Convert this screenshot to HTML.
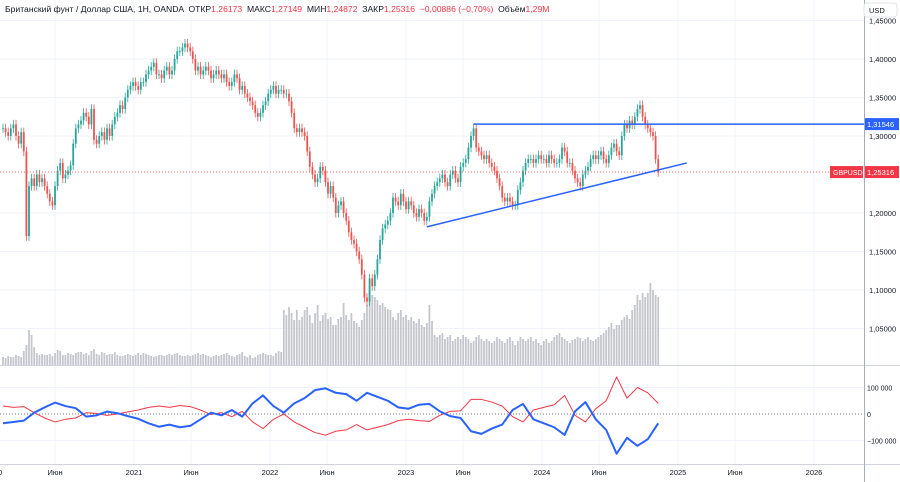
<!DOCTYPE html>
<html><head><meta charset="utf-8"><style>
body{margin:0;background:#fff;font-family:"Liberation Sans","Noto Sans CJK SC",sans-serif}
#wrap{position:relative;width:900px;height:482px;overflow:hidden}
svg{position:absolute;left:0;top:0}
</style></head><body>
<div id="wrap">
<svg id="c" width="900" height="482"></svg>
</div>
<script>
const closes=[1.31,1.305,1.30,1.31,1.315,1.30,1.29,1.305,
1.28,1.17,1.235,1.245,1.235,
1.25,1.24,1.245,1.235,1.225,1.215,1.21,
1.235,1.255,1.265,1.245,1.25,1.255,1.262,1.29,
1.31,1.315,1.32,1.33,1.325,1.315,1.335,1.295,
1.29,1.30,1.305,1.295,1.31,1.30,1.315,1.325,
1.33,1.34,1.335,1.35,1.36,1.365,1.37,1.365,
1.36,1.37,1.37,1.38,1.385,1.39,1.395,1.38,
1.38,1.375,1.385,1.39,1.38,1.385,1.40,1.41,
1.41,1.415,1.42,1.415,1.41,1.40,1.385,1.39,
1.38,1.385,1.39,1.385,1.375,1.38,1.385,1.38,
1.375,1.38,1.37,1.365,1.37,1.38,1.375,1.36,
1.365,1.355,1.35,1.345,1.34,1.33,1.325,1.33,
1.34,1.345,1.355,1.36,1.365,1.355,1.36,1.36,
1.355,1.355,1.345,1.33,1.31,1.305,1.31,1.305,
1.30,1.28,1.26,1.25,1.24,1.245,1.26,1.255,
1.24,1.225,1.235,1.22,1.20,1.21,1.215,1.20,
1.19,1.175,1.165,1.16,1.15,1.14,1.12,1.09,
1.085,1.115,1.105,1.12,1.14,1.165,1.18,1.185,
1.19,1.20,1.22,1.215,1.21,1.225,1.215,1.205,
1.215,1.21,1.20,1.195,1.205,1.20,1.19,1.195,
1.215,1.225,1.235,1.24,1.245,1.25,1.24,1.235,
1.25,1.255,1.245,1.24,1.26,1.265,1.27,1.285,
1.30,1.31,1.285,1.28,1.275,1.27,1.275,1.265,
1.26,1.255,1.245,1.235,1.22,1.215,1.22,1.215,
1.21,1.21,1.23,1.24,1.255,1.265,1.27,1.27,
1.265,1.27,1.275,1.27,1.27,1.265,1.275,1.27,
1.265,1.265,1.27,1.285,1.28,1.265,1.265,1.255,
1.245,1.24,1.235,1.25,1.255,1.26,1.27,1.275,
1.27,1.275,1.28,1.27,1.265,1.275,1.285,1.29,
1.28,1.275,1.30,1.315,1.31,1.32,1.315,1.325,
1.335,1.34,1.325,1.315,1.31,1.305,1.30,1.27,1.253];
const volumes=[8,7,9,8,8,10,9,8,14,
20,35,30,18,
12,10,11,10,10,11,9,12,15,14,
10,10,12,11,10,12,13,13,11,12,
10,14,16,11,10,13,12,10,11,11,
13,10,9,9,10,11,10,9,10,12,
10,12,11,10,9,8,9,10,10,9,
10,11,10,11,12,10,9,9,10,9,
10,11,12,10,11,10,9,8,9,10,
9,10,11,12,10,9,8,10,11,13,
9,8,10,7,8,10,11,12,11,10,
10,9,12,14,13,
55,50,58,52,45,55,45,48,55,58,50,42,52,60,44,50,52,46,48,40,40,46,48,62,50,45,52,44,42,38,45,52,60,
74,70,68,65,60,62,58,56,55,48,45,52,55,48,50,45,48,44,42,46,40,38,42,60,44,
30,28,30,32,26,28,30,24,26,28,26,30,28,26,22,24,28,30,26,24,26,24,22,24,28,26,24,22,26,28,24,20,24,28,26,24,26,28,24,26,22,20,24,26,22,24,28,30,32,28,26,24,22,25,26,28,27,24,26,28,25,24,26,28,30,32,
35,38,42,36,40,40,45,48,50,46,55,60,70,65,72,68,72,82,75,70,68];
const blueNet=[-35,-30,-25,5,25,43,30,22,-10,-5,9,3,-8,-18,-35,-48,-40,-50,-45,-20,5,-5,15,-10,40,70,30,5,40,60,90,97,80,75,50,80,65,50,25,20,35,38,10,-8,-15,-65,-75,-55,-40,15,38,-20,-35,-50,-79,10,45,-20,-60,-150,-90,-120,-95,-35];
const redNet=[30,25,28,5,-15,-30,-20,-15,5,2,-5,0,8,15,25,30,25,32,28,15,-2,5,-10,10,-30,-55,-20,0,-30,-50,-70,-80,-65,-60,-40,-60,-50,-40,-25,-20,-25,-28,-5,10,12,55,55,45,30,-10,-30,15,25,35,70,-5,-30,20,50,140,60,100,80,40];
const priceTicks=[1.05,1.10,1.15,1.20,1.30,1.35,1.40,1.45];
const priceTickLabels=["1,05000","1,10000","1,15000","1,20000","1,30000","1,35000","1,40000","1,45000"];
const netTicks=[100,0,-100];
const netTickLabels=["100 000","0","−100 000"];
const timeTicks=[2020,2020.42,2021,2021.42,2022,2022.42,2023,2023.42,2024,2024.42,2025,2025.42,2026];
const timeTickLabels=["20","Июн","2021","Июн","2022","Июн","2023","Июн","2024","Июн","2025","Июн","2026"];
const resistance=[1.31546];
const supportWeeks=[163,263];
const supportPrices=[1.182,1.265];
const resistanceStartWeek=181;
const lastPrice=1.25316;

const S=document.getElementById('c');const NS='http://www.w3.org/2000/svg';
function mk(t,a,p){const e=document.createElementNS(NS,t);for(const k in a)e.setAttribute(k,a[k]);(p||S).appendChild(e);return e;}
const xw=i=>3+i*2.6;
const xt=yr=>134+(yr-2021)*136;
const yp=p=>59+(1.40-p)*770;
const yn=v=>414-v*0.265;
const yv=v=>365-v;
timeTicks.forEach(t=>{const l=mk('line',{x1:xt(t),x2:xt(t),y1:0,y2:464,stroke:'#f0f3fa'});});
priceTicks.forEach(p=>{const l=mk('line',{x1:0,x2:864,y1:yp(p),y2:yp(p),stroke:'#f0f3fa'});});
netTicks.forEach(v=>{if(v!==0){const l=mk('line',{x1:0,x2:864,y1:yn(v),y2:yn(v),stroke:'#f0f3fa'});}});
volumes.forEach((v,i)=>{const r=mk('rect',{x:xw(i)-0.9,y:yv(v),width:1.8,height:v,fill:'#c4c6cc'});});
closes.forEach((c,i)=>{const o=i?closes[i-1]:c;const up=c>=o;const col=up?'#26a69a':'#ef5350';
const hi=Math.max(o,c)+0.006,lo=Math.min(o,c)-0.006;
const w=mk('line',{x1:xw(i),x2:xw(i),y1:yp(hi),y2:yp(lo),stroke:col,'stroke-width':0.8});

const b=mk('rect',{x:xw(i)-0.9,y:yp(Math.max(o,c)),width:1.8,height:Math.max(0.8,Math.abs(yp(o)-yp(c))),fill:col});
});
const lp=mk('line',{x1:0,x2:864,y1:yp(lastPrice),y2:yp(lastPrice),stroke:'#ef5350','stroke-dasharray':'1,2','stroke-width':0.8});

const rl=mk('line',{x1:xw(resistanceStartWeek),x2:864,y1:yp(resistance[0]),y2:yp(resistance[0]),stroke:'#2962ff','stroke-width':1.5});

const sl=mk('line',{x1:xw(supportWeeks[0]),x2:xw(supportWeeks[1]),y1:yp(supportPrices[0]),y2:yp(supportPrices[1]),stroke:'#2962ff','stroke-width':1.5});

mk('line',{x1:0,x2:900,y1:365.5,y2:365.5,stroke:'#d1d4dc'});
mk('line',{x1:0,x2:900,y1:464.5,y2:464.5,stroke:'#d1d4dc'});
mk('line',{x1:864.5,x2:864.5,y1:0,y2:482,stroke:'#a9adb7'});
const zl=mk('line',{x1:0,x2:864,y1:yn(0),y2:yn(0),stroke:'#787b86','stroke-dasharray':'1,2'});

function pl(arr,col,w,name){const pts=arr.map((v,k)=>xw(k*4)+','+yn(v)).join(' ');const e=mk('polyline',{points:pts,fill:'none',stroke:col,'stroke-width':w,'stroke-linejoin':'round'});}
pl(redNet,'#f23645',1,'red-net-line');
pl(blueNet,'#2962ff',2,'blue-net-line');
function tx(x,y,s,opt){const t=mk('text',Object.assign({x:x,y:y,'font-size':7.5,fill:'#131722'},opt||{}));t.textContent=s;return t;}
priceTicks.forEach((p,k)=>{const t=tx(869,yp(p)+3,priceTickLabels[k]);});
netTicks.forEach((v,k)=>{const t=tx(867,yn(v)+3,netTickLabels[k],{'font-size':7});});
timeTicks.forEach((v,k)=>{const t=tx(xt(v),475,timeTickLabels[k],{'text-anchor':'middle'});});
const r1=mk('rect',{x:865,y:yp(resistance[0])-6,width:34,height:12,fill:'#2962ff'});
tx(867,yp(resistance[0])+3,'1,31546',{fill:'#fff'});
const r2=mk('rect',{x:865,y:yp(lastPrice)-6,width:34,height:12,fill:'#f23645'});
tx(867,yp(lastPrice)+3,'1,25316',{fill:'#fff'});
const r3=mk('rect',{x:830,y:yp(lastPrice)-6,width:33,height:12,fill:'#f23645'});
tx(833,yp(lastPrice)+3,'GBPUSD',{fill:'#fff','font-size':7});
const ub=mk('rect',{x:864,y:3,width:33,height:14,rx:3,fill:'#fff',stroke:'#e0e3eb'});
tx(869,13,'USD',{'font-size':7.5});
const h=mk('text',{x:5,y:12,'font-size':8.6,fill:'#131722'});
const parts=[['Британский фунт / Доллар США, 1Н, OANDA  ОТКР','#131722'],['1,26173','#f23645'],['  МАКС','#131722'],['1,27149','#f23645'],['  МИН','#131722'],['1,24872','#f23645'],['  ЗАКР','#131722'],['1,25316  −0,00886 (−0,70%)','#f23645'],['  Объём','#131722'],['1,29M','#f23645']];
parts.forEach(p=>{const s=document.createElementNS(NS,'tspan');s.setAttribute('fill',p[1]);s.textContent=p[0];h.appendChild(s);});
h.setAttribute('style','white-space:pre');
</script>
</body></html>
